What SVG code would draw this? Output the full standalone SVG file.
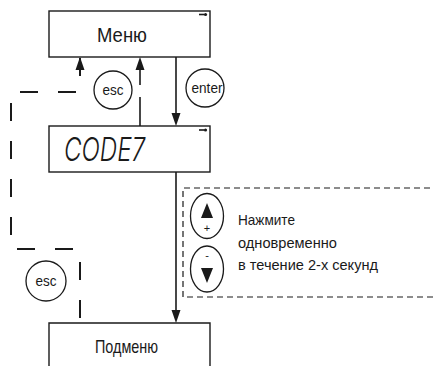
<svg xmlns="http://www.w3.org/2000/svg" width="433" height="366" viewBox="0 0 433 366">
<defs>
<style>
.box{fill:#fff;stroke:#1a1a1a;stroke-width:1.4}
.ln{fill:none;stroke:#1a1a1a;stroke-width:1.6}
.dl{fill:none;stroke:#1a1a1a;stroke-width:2;stroke-dasharray:18 20}
.db{fill:none;stroke:#1a1a1a;stroke-width:1.2;stroke-dasharray:6 4}
.c{fill:#fff;stroke:#1a1a1a;stroke-width:1.3}
.t{font-family:"Liberation Sans",Arial,sans-serif;fill:#1a1a1a}
.ah{fill:#1a1a1a}
</style>
</defs>
<rect width="433" height="366" fill="#fff"/>
<g id="connectors">
<path class="dl" d="M80,58 V92 H11 V249 H80 V323"/>
<polygon class="ah" points="80,57 75.5,70 84.5,70"/>
<path class="ln" d="M140,85 V66 M140,97 V126"/>
<polygon class="ah" points="140,57 135.5,70 144.5,70"/>
<path class="ln" d="M176,57 V116"/>
<polygon class="ah" points="176,126 171.5,113 180.5,113"/>
<path class="ln" d="M176,172 V313"/>
<polygon class="ah" points="176,323 171.5,310 180.5,310"/>
</g>
<g id="menu">
<rect class="box" x="49" y="11" width="161" height="46"/>
<text class="t" x="122" y="42" font-size="19.5" text-anchor="middle" textLength="50" lengthAdjust="spacingAndGlyphs">Меню</text>
<path class="ln" d="M199,14.5 H204" stroke-width="1.2"/><circle cx="205.5" cy="14.5" r="1.6" fill="#1a1a1a"/>
</g>
<g id="code">
<rect class="box" x="49" y="126" width="161" height="46"/>
<text x="64" y="161" font-family="Inter,'DejaVu Sans',sans-serif" font-weight="300" font-style="italic" font-size="33" fill="#1a1a1a" textLength="81" lengthAdjust="spacingAndGlyphs">CODE7</text>
<path class="ln" d="M199,130 H204" stroke-width="1.2"/><circle cx="205.5" cy="130" r="1.6" fill="#1a1a1a"/>
</g>
<g id="submenu">
<path class="box" d="M49,370 V323 H210 V370"/>
<text class="t" x="95" y="353" font-size="18.5" textLength="63" lengthAdjust="spacingAndGlyphs">Подменю</text>
</g>
<g id="esc-top">
<circle class="c" cx="113" cy="90" r="19"/>
<text class="t" x="113" y="95" font-size="14" text-anchor="middle" textLength="21" lengthAdjust="spacingAndGlyphs">esc</text>
</g>
<g id="enter">
<circle class="c" cx="205" cy="88" r="19"/>
<text class="t" x="207" y="93" font-size="14" text-anchor="middle" textLength="31" lengthAdjust="spacingAndGlyphs">enter</text>
</g>
<g id="esc-bottom">
<circle class="c" cx="46" cy="281" r="20"/>
<text class="t" x="46" y="286" font-size="14" text-anchor="middle" textLength="21" lengthAdjust="spacingAndGlyphs">esc</text>
</g>
<g id="hint">
<path class="db" d="M440,188 H183 V297 H440"/>
<ellipse class="c" cx="207" cy="216" rx="16.5" ry="22.5"/>
<polygon class="ah" points="207,203 201,218 213,218"/>
<text class="t" x="207" y="232" font-size="11" text-anchor="middle">+</text>
<ellipse class="c" cx="207" cy="269" rx="16.5" ry="23"/>
<text class="t" x="207" y="259" font-size="11" text-anchor="middle">-</text>
<polygon class="ah" points="207,283 201,268 213,268"/>
<text class="t" x="238" y="225" font-size="14.5" textLength="57" lengthAdjust="spacingAndGlyphs">Нажмите</text>
<text class="t" x="238" y="248" font-size="14.5" textLength="99" lengthAdjust="spacingAndGlyphs">одновременно</text>
<text class="t" x="238" y="270" font-size="14.5" textLength="140" lengthAdjust="spacingAndGlyphs">в течение 2-х секунд</text>
</g>
</svg>
